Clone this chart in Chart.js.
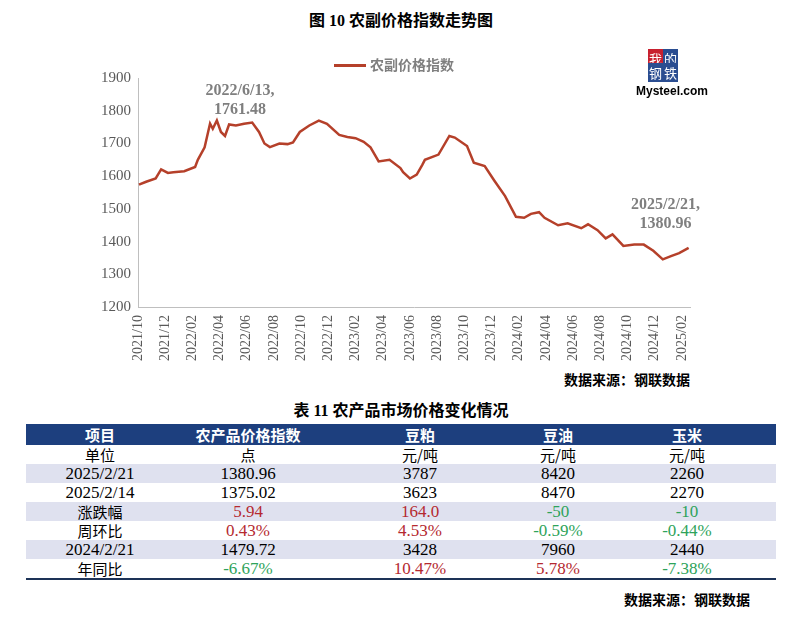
<!DOCTYPE html>
<html>
<head>
<meta charset="utf-8">
<script src="https://cdn.jsdelivr.net/npm/chart.js@4"></script>
<style>
  body { margin: 0; width: 802px; height: 633px; background: #fff; position: relative; overflow: hidden;
         font-family: "Liberation Serif", "Noto Sans CJK SC", serif; }
  .abs { position: absolute; }
  #title { left: 0; width: 802px; top: 7px; text-align: center; font-weight: bold; font-size: 16px; }
  #chartBox { left: 80px; top: 66px; width: 640px; height: 298px; }
  .note { color: #7f7f7f; font-weight: bold; font-size: 16px; text-align: center; line-height: 19px; }
  .src { font-weight: bold; font-size: 14px; }
  #tbl { left: 26px; top: 424px; width: 750px; border-collapse: collapse; font-size: 17px; }
  #tbl td { height: 19px; padding: 0; text-align: center; line-height: 18px; }
  #tbl tr.head td { background: #1d3f7e; color: #fff; font-weight: bold; height: 21px; font-family: "Noto Sans CJK SC"; font-size: 15px; }
  #tbl tr.shade td { background: #dfe1ef; }
  #tbl tr:last-child td { border-bottom: 2px solid #1d3357; }
  .red { color: #b5292f; }
  .green { color: #2ea35a; }
</style>
</head>
<body>
<div id="title" class="abs">图 10 农副价格指数走势图</div>
<div id="chartBox" class="abs"><canvas id="idxChart"></canvas></div>
<div class="abs" style="left:334px;top:64px;width:32px;height:3px;background:#b5402a"></div>
<div class="abs note" style="left:370px;top:55px;font-size:14px;font-family:'Noto Sans CJK SC'">农副价格指数</div>
<div class="abs note" style="left:180px;top:80px;width:120px">2022/6/13,<br>1761.48</div>
<div class="abs note" style="left:618px;top:194px;width:95px">2025/2/21,<br>1380.96</div>
<div class="abs" style="left:648px;top:52px;font-size:13px;line-height:14px;color:#fff;font-family:'Noto Sans CJK SC'">
  <span style="background:#c8202f;padding:0 1px">我</span><span style="background:#2a4d91;padding:0 1px">的</span><br>
  <span style="background:#2a4d91;padding:0 1px">钢</span><span style="background:#2a4d91;padding:0 1px">铁</span>
</div>
<div class="abs" style="left:636px;top:84px;font-size:12px;font-weight:bold;font-family:'Liberation Sans'">Mysteel.com</div>
<div class="abs src" style="left:564px;top:369px">数据来源：钢联数据</div>
<div class="abs" style="left:0;width:802px;top:397px;text-align:center;font-weight:bold;font-size:16px">表 11 农产品市场价格变化情况</div>
<table id="tbl" class="abs"></table>
<div class="abs src" style="left:624px;top:589px">数据来源：钢联数据</div>

<script>
// x = months since 2021/10
const monthPos = [0.07, 0.6, 1.3, 1.7, 2.2, 2.6, 3.4, 4.2, 4.4, 4.9, 5.3, 5.5, 5.8, 6.1, 6.4, 6.7, 7.2, 7.8, 8.4, 8.9, 9.3, 9.7, 10.4, 11.0, 11.4, 11.9, 12.6, 13.3, 13.9, 14.8, 15.4, 16.0, 16.6, 17.1, 17.7, 18.5, 19.3, 19.5, 20.0, 20.5, 20.9, 21.1, 22.1, 22.9, 23.3, 24.2, 24.7, 25.5, 26.2, 27.0, 27.8, 28.4, 28.9, 29.5, 29.9, 30.9, 31.6, 32.6, 33.1, 33.8, 34.4, 34.9, 35.7, 36.5, 37.2, 37.9, 38.6, 39.2, 39.8, 40.5];
const indexValues = [1574, 1583, 1593, 1621, 1610, 1612, 1615, 1628, 1650, 1688, 1761, 1745, 1770, 1735, 1723, 1758, 1755, 1760, 1764, 1735, 1700, 1689, 1700, 1698, 1703, 1735, 1755, 1770, 1760, 1726, 1720, 1716, 1705, 1688, 1645, 1650, 1625, 1612, 1593, 1605, 1634, 1650, 1666, 1723, 1718, 1692, 1641, 1631, 1587, 1539, 1476, 1473, 1485, 1490, 1473, 1450, 1456, 1441, 1453, 1435, 1410, 1422, 1387, 1391, 1391, 1372, 1346, 1356, 1365, 1381];
const tickLabels = ['2021/10', '2021/12', '2022/02', '2022/04', '2022/06', '2022/08', '2022/10', '2022/12', '2023/02', '2023/04', '2023/06', '2023/08', '2023/10', '2023/12', '2024/02', '2024/04', '2024/06', '2024/08', '2024/10', '2024/12', '2025/02'];

const tableHead = ['项目', '农产品价格指数', '豆粕', '豆油', '玉米'];
const tableRows = [
  ['单位', '点', '元/吨', '元/吨', '元/吨'],
  ['2025/2/21', '1380.96', '3787', '8420', '2260'],
  ['2025/2/14', '1375.02', '3623', '8470', '2270'],
  ['涨跌幅', '5.94', '164.0', '-50', '-10'],
  ['周环比', '0.43%', '4.53%', '-0.59%', '-0.44%'],
  ['2024/2/21', '1479.72', '3428', '7960', '2440'],
  ['年同比', '-6.67%', '10.47%', '5.78%', '-7.38%']
];
const colWidths = [148, 148, 196, 80, 178];

new Chart(document.getElementById('idxChart'), {
  type: 'line',
  data: {
    datasets: [{
      data: monthPos.map((m, i) => ({ x: m, y: indexValues[i] })),
      borderColor: '#b5402a',
      borderWidth: 2.5,
      pointRadius: 0,
      tension: 0
    }]
  },
  options: {
    responsive: true,
    maintainAspectRatio: false,
    animation: false,
    layout: { padding: { left: 18, right: 30, top: 2 } },
    plugins: { legend: { display: false }, tooltip: { enabled: false } },
    scales: {
      x: {
        type: 'linear',
        min: 0,
        max: 40.6,
        afterBuildTicks: axis => { axis.ticks = tickLabels.map((t, i) => ({ value: i * 2 })); },
        ticks: {
          autoSkip: false,
          maxRotation: 90,
          minRotation: 90,
          color: '#595959',
          font: { family: 'Liberation Serif', size: 14 },
          callback: (v, i) => tickLabels[i]
        },
        grid: { display: false, drawTicks: true, tickLength: 5, tickColor: '#bfbfbf' },
        border: { color: '#bfbfbf' }
      },
      y: {
        min: 1200,
        max: 1900,
        ticks: { stepSize: 100, color: '#595959', font: { family: 'Liberation Serif', size: 15 }, callback: v => String(v) },
        grid: { display: false, tickLength: 4 },
        border: { color: '#bfbfbf' }
      }
    }
  }
});

// table
const tbl = document.getElementById('tbl');
const headRow = tbl.insertRow();
headRow.className = 'head';
tableHead.forEach((h, i) => { const c = headRow.insertCell(); c.textContent = h; c.style.width = colWidths[i] + 'px'; });
tableRows.forEach((r, ri) => {
  const tr = tbl.insertRow();
  if (ri % 2 === 1) tr.className = 'shade';
  r.forEach((v, ci) => {
    const c = tr.insertCell();
    c.textContent = v;
    if (/[\u4e00-\u9fa5]/.test(v)) { c.style.fontFamily = 'Noto Sans CJK SC'; c.style.fontSize = '15px'; }
    if (ci > 0 && ri >= 3 && ri !== 5) c.className = v.startsWith('-') ? 'green' : 'red';
  });
});
</script>
</body>
</html>
